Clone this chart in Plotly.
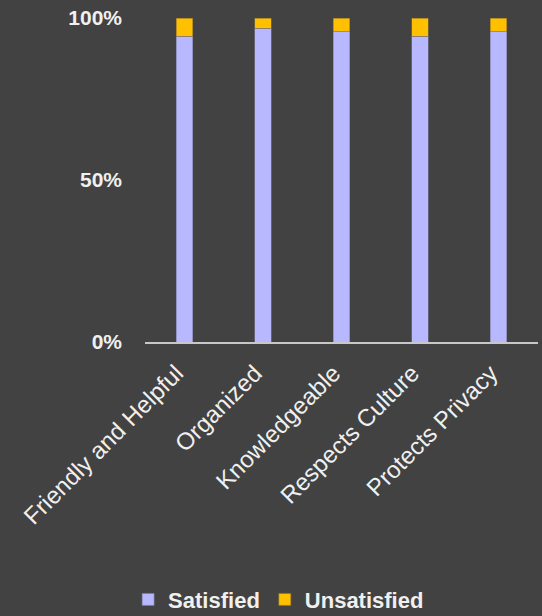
import plotly.graph_objects as go

categories = ["Friendly and Helpful", "Organized", "Knowledgeable", "Respects Culture", "Protects Privacy"]
satisfied = [94.4, 96.9, 95.7, 94.4, 95.7]
unsatisfied = [5.6, 3.1, 4.3, 5.6, 4.3]
y_ticks = [0, 50, 100]
y_tick_labels = ["0%", "50%", "100%"]

bg = "#424242"
txt = "#f0f0f0"
fam = "Liberation Sans, Arial"

fig = go.Figure()
fig.add_trace(go.Bar(x=categories, y=satisfied, name="Satisfied",
                     marker=dict(color="#b8b8ff", line=dict(color="#7a7a9a", width=0.6))))
fig.add_trace(go.Bar(x=categories, y=unsatisfied, name="Unsatisfied",
                     marker=dict(color="#ffc000", line=dict(color="#8a7030", width=0.6))))

fig.update_layout(
    barmode="stack",
    bargap=0.79,
    width=542, height=616,
    paper_bgcolor=bg, plot_bgcolor=bg,
    margin=dict(l=145, r=4, t=18, b=274, autoexpand=False),
    font=dict(family=fam, color=txt),
    showlegend=True,
    legend=dict(orientation="h", x=0.34, xanchor="center", y=-0.795, yanchor="middle",
                font=dict(size=22, color=txt, family=fam, weight="bold"),
                itemwidth=30, traceorder="normal", bgcolor="rgba(0,0,0,0)"),
    xaxis=dict(tickangle=-45, tickfont=dict(size=24, color=txt, family=fam), showline=True,
               linecolor="#c8c8c8", linewidth=1.5, ticks="", showgrid=False,
               automargin=False, ticklabelstandoff=6, ticklabelshift=-8),
    yaxis=dict(range=[0, 100], tickvals=y_ticks, ticktext=y_tick_labels,
               tickfont=dict(size=21, color=txt, family=fam, weight="bold"),
               showgrid=False, zeroline=False, showline=False, ticks="", ticklabelstandoff=22,
               automargin=False),
)
fig.write_html("out.html", config={"displayModeBar": False},
               post_script="document.body.style.margin='0';document.body.style.background='%s';" % bg)
